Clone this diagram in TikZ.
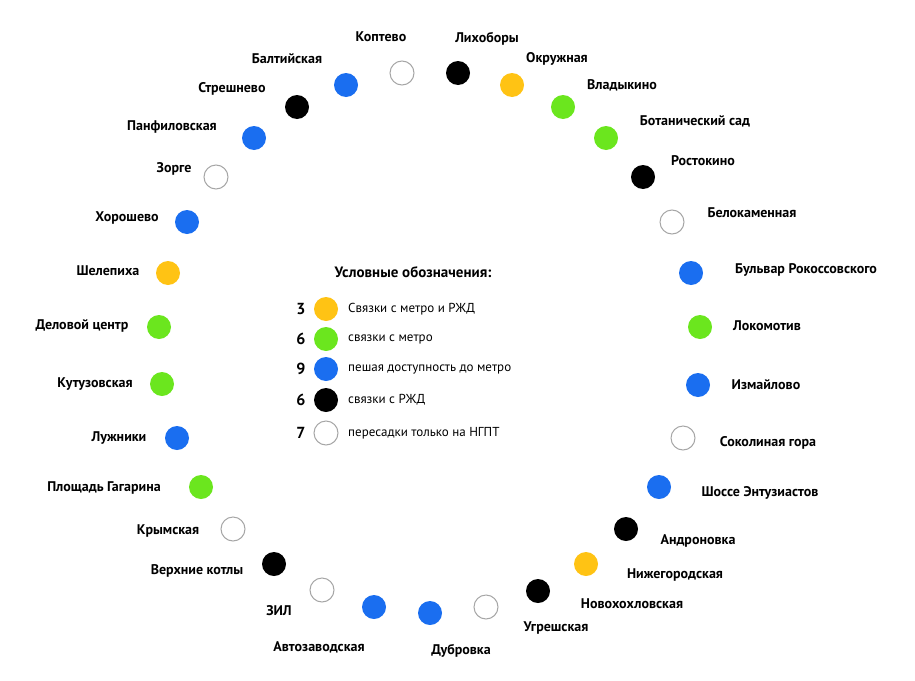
\documentclass[tikz,border=0pt]{standalone}
\usepackage{fontspec}
\setmainfont{PT Sans}
\begin{document}
\begin{tikzpicture}[x=1pt,y=-1pt,
  st/.style={circle,minimum size=24pt,inner sep=0pt},
  yel/.style={st,fill=cY},grn/.style={st,fill=cG},blu/.style={st,fill=cB},
  blk/.style={st,fill=black},wht/.style={st,draw=gray!70,line width=1pt,fill=white},
  lab/.style={font=\fontsize{14}{16}\selectfont\bfseries,inner sep=0pt},
  leg/.style={font=\fontsize{13}{15}\selectfont,anchor=west,inner sep=0pt},
  num/.style={font=\fontsize{16}{18}\selectfont\bfseries,inner sep=0pt}]
\definecolor{cY}{HTML}{FFC314}
\definecolor{cG}{HTML}{6BE61E}
\definecolor{cB}{HTML}{1A6EF0}
\useasboundingbox (0,0) rectangle (915,680);
\foreach \n/\s/\cx/\cy/\lx/\ly/\t in {
a/wht/402/73/381/37/Коптево,
b/blk/458/73/487/39/Лихоборы,
c/yel/512/85/557/59/Окружная,
d/grn/563/107/622/85/Владыкино,
e/grn/606/138/695/121/Ботанический сад,
f/blk/643/177/703/161/Ростокино,
g/wht/672/222/752/213/Белокаменная,
h/blu/691/273/806/270/Бульвар Рокоссовского,
i/grn/700/327/767/326/Локомотив,
j/blu/698/385/766/385/Измайлово,
k/wht/683/438/768/443/Соколиная гора,
l/blu/659/487/760/493/Шоссе Энтузиастов,
m/blk/626/529/698/541/Андроновка,
n/yel/586/564/675/575/Нижегородская,
o/blk/538/591/632/604/Новохохловская,
p/wht/486/607/556/628/Угрешская,
q/blu/430/613/461/651/Дубровка,
r/blu/374/607/319/647/Автозаводская,
s/wht/322/590/279/611/ЗИЛ,
t/blk/274/564/197/571/Верхние котлы,
u/wht/233/529/168/531/Крымская,
v/grn/201/487/104/488/Площадь Гагарина,
w/blu/177/438/119/438/Лужники,
x/grn/162/384/95/384/Кутузовская,
y/grn/159/327/82/326/Деловой центр,
z/yel/168/273/108/271/Шелепиха,
A/blu/187/222/127/218/Хорошево,
B/wht/216/177/174/169/Зорге,
C/blu/254/138/172/127/Панфиловская,
D/blk/297/107/232/89/Стрешнево,
E/blu/346/85/287/59/Балтийская}{
  \node[\s] (c\n) at (\cx,\cy) {};
  \node[lab] (l\n) at (\lx,\ly) {\t};
}
\node[lab,font=\fontsize{15}{17}\selectfont\bfseries] (title) at (413,272) {Условные обозначения:};
\foreach \k/\s/\y/\nn/\t in {1/yel/309/3/Связки с метро и РЖД,2/grn/339/6/связки с метро,3/blu/369/9/пешая доступность до метро,4/blk/400/6/связки с РЖД,5/wht/433/7/пересадки только на НГПТ}{
  \node[num] (n\k) at (301,\y) {\nn};
  \node[\s] (s\k) at (326,\y) {};
  \node[leg] (t\k) at (348,\y) {\t};
}
\end{tikzpicture}
\end{document}
